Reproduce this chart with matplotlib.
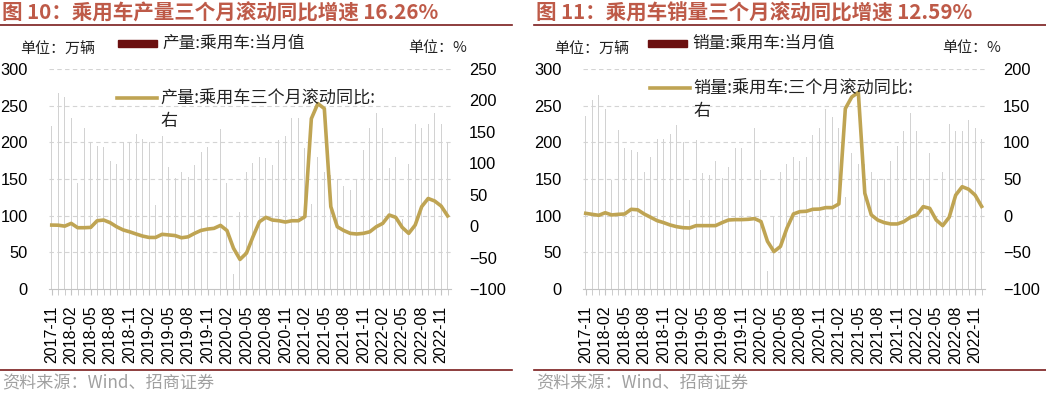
import numpy as np
import pandas as pd
import matplotlib
matplotlib.use('Agg')
import matplotlib.pyplot as plt
from matplotlib.lines import Line2D
from matplotlib.patches import Rectangle

plt.rcParams['font.family'] = ['Liberation Sans', 'Noto Sans CJK SC', 'DejaVu Sans']

months = pd.period_range('2017-11', '2022-12', freq='M').strftime('%Y-%m').tolist()

# 产量:乘用车:当月值 (万辆)
prod_month = [222, 267, 262, 233, 144, 219, 200, 195, 193, 174,
              171, 201, 201, 212, 205, 200, 115, 209, 166, 151,
              160, 153, 169, 187, 194, 218, 218, 144, 21, 105,
              160, 172, 180, 179, 169, 203, 208, 233, 233, 192,
              116, 180, 160, 155, 150, 140, 135, 150, 190, 220,
              240, 220, 165, 180, 95, 170, 225, 220, 225, 240,
              225, 200]
# 产量:乘用车三个月滚动同比 (%)
prod_yoy = [1.7, 1.5, 0, 4.4, -2.5, -2.5, -2, 8.6, 9.7, 5.5,
            -1, -6, -9, -12.5, -15.8, -18, -18, -13, -14, -15,
            -18.5, -17, -11.5, -6.8, -4.7, -3.5, 1.2, -7, -35, -53,
            -43, -17, 7, 14, 9.7, 8.6, 6.5, 8.6, 8.6, 15,
            171, 195, 187, 31, -1, -7, -11.5, -12.5, -11.5, -9,
            -1, 4.4, 17.7, 14, -2, -11.5, 1.7, 31, 44, 40,
            32, 16.26]

# 销量:乘用车:当月值 (万辆)
sales_month = [236, 258, 264, 245, 149, 217, 192, 190, 187, 160,
               180, 205, 204, 212, 224, 201, 121, 203, 158, 156,
               174, 152, 166, 192, 192, 204, 219, 162, 24, 100,
               160, 170, 180, 175, 180, 210, 220, 245, 235, 220,
               125, 185, 170, 170, 160, 150, 150, 175, 195, 215,
               240, 215, 150, 185, 98, 160, 225, 215, 215, 230,
               220, 205]
# 销量:乘用车:三个月滚动同比 (%)
sales_yoy = [3.2, 1.8, 0.5, 4, 1, 1.8, 2.3, 8.7, 8, 2.3,
             -2.2, -6.8, -9.5, -12.7, -15, -16.4, -16.8, -13.6, -13.6, -13.6,
             -13.6, -9.5, -5.9, -5.4, -5.4, -5, -4, -8, -35, -49,
             -42, -17, 2.3, 5.5, 6, 8.7, 9, 11, 11, 16,
             146, 162, 168, 30.5, 1, -6, -9.5, -11.3, -11.3, -8.2,
             -2.2, 1, 12.3, 10, -5.9, -13.6, -2.2, 28, 39.5, 36,
             28, 12.59]

W, H = 1046, 395
TITLE_C = '#BE5A48'
RULE_C = '#7A1C1C'
LINE_C = '#BFA453'
BAR_C = '#D2D2D2'
CJK = ['Noto Sans CJK SC', 'DejaVu Sans']

fig = plt.figure(figsize=(W / 100, H / 100), dpi=100)


def px(x, y):
    return x / W, 1 - y / H


def panel(x0, title, bar_name, line_name, bars, line, rlim, rticks,
          legx, linelegx, linelegy):
    left, right = x0 + 48.5, x0 + 48.5 + 62 * 6.49
    ax = fig.add_axes([left / W, 1 - 289 / H, (right - left) / W, 220 / H])
    x = np.arange(len(months))
    ax.bar(x, bars, width=0.15, color=BAR_C, zorder=2)
    ax.set_xlim(-0.5, len(months) - 0.5)
    ax.set_ylim(0, 300)
    ax.set_yticks(range(0, 301, 50))
    for v in range(50, 301, 50):
        ax.axhline(v, color='#D4D4D4', lw=0.8, ls=(0, (4, 3)), zorder=1)
    for s in ['top', 'right', 'left']:
        ax.spines[s].set_visible(False)
    ax.spines['bottom'].set_color('#C4C4C4')
    ax.tick_params(axis='y', length=0, labelsize=11.8, pad=15)
    ax.set_xticks(x[::3])
    ax.set_xticklabels(months[::3], rotation=90, fontsize=11.5)
    ax.set_xticks(x, minor=True)
    ax.tick_params(axis='x', which='both', length=4, color='#C4C4C4', pad=8)

    ax2 = ax.twinx()
    ax2.plot(x, line, color=LINE_C, lw=2.6, zorder=3, solid_joinstyle='round')
    ax2.set_ylim(*rlim)
    ax2.set_yticks(rticks)
    for s in ax2.spines.values():
        s.set_visible(False)
    ax2.tick_params(axis='y', length=0, labelsize=11.8, pad=13)

    # title and rules
    fig.text(*px(x0 + 2, 13), title, fontsize=14.8, fontweight='bold',
             color=TITLE_C, va='center', ha='left', family=CJK)
    fig.add_artist(Line2D([x0 / W, (x0 + 512) / W], [1 - 25 / H] * 2,
                          color=RULE_C, lw=1.2))
    fig.add_artist(Line2D([x0 / W, (x0 + 512) / W], [1 - 370 / H] * 2,
                          color=RULE_C, lw=1.2))
    fig.text(*px(x0 + 2, 383), '资料来源：Wind、招商证券', fontsize=12.3,
             color='#A0A0A0', va='center', ha='left', family=CJK)

    # legend / unit row
    fig.text(*px(x0 + 20, 50), '单位：万辆', fontsize=10.8, va='center',
             ha='left', family=CJK, color='#222222')
    fig.text(*px(x0 + 408, 48), '单位：%', fontsize=10.8, va='center',
             ha='left', family=CJK, color='#222222')
    fig.add_artist(Rectangle(px(x0 + legx, 46.5), 39 / W, 7 / H,
                             color='#6B0F0F', transform=fig.transFigure))
    fig.text(*px(x0 + legx + 44, 43), bar_name, fontsize=12, va='center',
             ha='left', family=CJK, color='#222222')
    fig.add_artist(Line2D([(x0 + linelegx) / W, (x0 + linelegx + 40) / W],
                          [1 - linelegy / H] * 2, color=LINE_C, lw=2.6))
    fig.text(*px(x0 + linelegx + 43, linelegy), line_name, fontsize=12.3,
             va='center', ha='left', family=CJK, color='#222222')
    fig.text(*px(x0 + linelegx + 43, linelegy + 23), '右', fontsize=12.3,
             va='center', ha='left', family=CJK, color='#222222')


panel(0, '图 10：乘用车产量三个月滚动同比增速 16.26%', '产量:乘用车:当月值',
      '产量:乘用车三个月滚动同比:', prod_month, prod_yoy, (-100, 250),
      range(-100, 251, 50), 118, 117, 98)
panel(534, '图 11：乘用车销量三个月滚动同比增速 12.59%', '销量:乘用车:当月值',
      '销量:乘用车:三个月滚动同比:', sales_month, sales_yoy, (-100, 200),
      range(-100, 201, 50), 114, 116, 88)

fig.savefig('out.png', dpi=100)
